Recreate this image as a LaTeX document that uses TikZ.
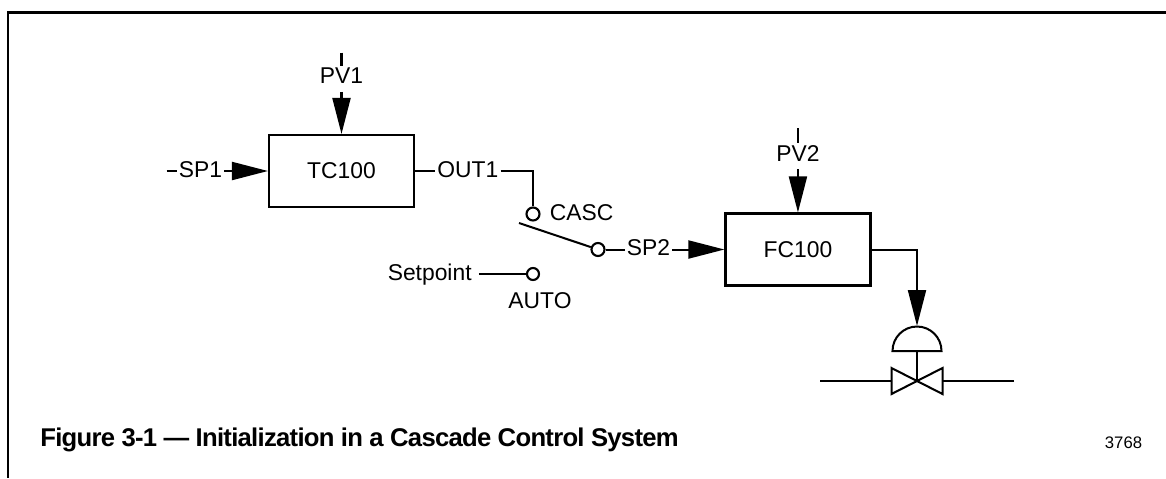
\documentclass[tikz,border=0pt]{standalone}
\usepackage{fontspec}
\setmainfont{Liberation Sans}
\newfontfamily\capfont[LetterSpace=-2.8]{Liberation Sans}
\usepackage{xcolor}
\usetikzlibrary{
  arrows.meta,
  positioning
}
\tikzset{
  ctrlblock/.style = {
    rectangle, draw=black, line width=1.2pt,
    minimum width=2.9cm, minimum height=1.44cm,
    inner sep=0pt, align=center, font=\fontsize{13}{15}\selectfont
  },
  lbl/.style  = {
    font=\fontsize{13}{15}\selectfont, inner xsep=0.04cm, inner ysep=0.1cm,
    text height=0.72em, text depth=0pt
  },
  term/.style = {
    circle, draw=black, line width=1.2pt, fill=white,
    minimum size=0.24cm, inner sep=0pt
  },
  wire/.style = {draw=black, line width=1.15pt},
  arr/.style  = {-{Triangle[length=0.72cm, width=0.36cm]}, draw=black,
                 line width=1.15pt},
  frameline/.style = {draw=black, line width=1.4pt},
}

\begin{document}
\begin{tikzpicture}[x=0.02cm, y=0.02cm]
  \useasboundingbox (0,0) rectangle (1166,-478);

  %% ── Frame ──────────────────────────────────────────────────────────────
  \coordinate (fr_right) at (1166,-12.5);
  \coordinate (fr_bottom) at (8,-478);
  \draw[frameline] (fr_right) -| (fr_bottom);

  %% ── TC100 column ───────────────────────────────────────────────────────
  \node[ctrlblock] (tc) at (341.5,-171) {TC100};
  \node[lbl, above=0.9cm of tc] (pv1) {PV1};
  \coordinate[above=0.26cm of pv1] (pv1_in);
  \node[lbl, left=0.87cm of tc] (sp1) {SP1};
  \coordinate[left=0.2cm of sp1] (sp1_in);
  \node[lbl, right=0.4cm of tc] (out1) {OUT1};

  %% ── Switch ─────────────────────────────────────────────────────────────
  \node[term, minimum size=0.26cm] (casc_pt) at (533,-214) {};
  \node[lbl, right=0.14cm of casc_pt] (casc) {CASC};
  \node[term] (auto_pt) at (533,-274) {};
  \node[lbl, left=1.04cm of auto_pt] (setpoint) {Setpoint};
  \node[lbl, below=0.18cm of auto_pt, xshift=0.14cm] (auto) {AUTO};
  \node[term, minimum size=0.26cm] (sw_pt) at (598,-249.5) {};
  \coordinate (sw_end) at (519,-223);
  \node[lbl, right=0.38cm of sw_pt] (sp2) {SP2};

  %% ── FC100 column ───────────────────────────────────────────────────────
  \node[ctrlblock, right=1.04cm of sp2] (fc) {FC100};
  \node[lbl, above=0.92cm of fc] (pv2) {PV2};
  \coordinate[above=0.3cm of pv2] (pv2_in);

  %% ── Valve ──────────────────────────────────────────────────────────────
  \coordinate (act_top) at (917,-326);
  \coordinate (act_base) at (917,-351);
  \coordinate (valve) at (917,-381);
  \coordinate (pipe_l) at (820,-381);
  \coordinate (pipe_r) at (1014,-381);
  \draw[wire] (act_base) ++(-24.5,0) arc[start angle=180, end angle=0,
    radius=0.49cm] -- cycle;
  \draw[wire] (valve) ++(-25.5,13) -- ++(51,-26) -- ++(0,26) -- ++(-51,-26) -- cycle;
  \draw[wire] (act_base) -- (valve);
  \draw[wire] (pipe_l) -- ++(71,0);
  \draw[wire] (pipe_r) -- ++(-71.5,0);

  %% ── Arrows ─────────────────────────────────────────────────────────────
  \draw[wire] (pv1_in) -- (pv1);
  \draw[arr, shorten <=0.06cm] (pv1) -- (tc);
  \draw[wire] (sp1_in) -- (sp1);
  \draw[arr] (sp1) -- (tc);
  \draw[wire] (tc) -- (out1);
  \draw[wire] (out1.east) -| (casc_pt.north);
  \draw[wire] (sw_end) -- (sw_pt);
  \draw[wire] (sw_pt) -- (sp2);
  \draw[arr] (sp2) -- (fc);
  \draw[wire, shorten <=0.1cm] (setpoint) -- (auto_pt);
  \draw[wire] (pv2_in) -- (pv2);
  \draw[arr, shorten <=0.06cm] (pv2) -- (fc);
  \draw[arr] (fc.east) -| (act_top);

  %% ── Caption ────────────────────────────────────────────────────────────
  \node[anchor=west, inner sep=0pt, font=\fontsize{14.6}{17}\selectfont\capfont\bfseries]
    (caption) at (40,-440) {Figure 3-1 — Initialization in a Cascade Control System};
  \node[inner sep=0pt, font=\fontsize{9.5}{11}\selectfont] (fignum) at (1123.5,-443) {3768};

\end{tikzpicture}
\end{document}
